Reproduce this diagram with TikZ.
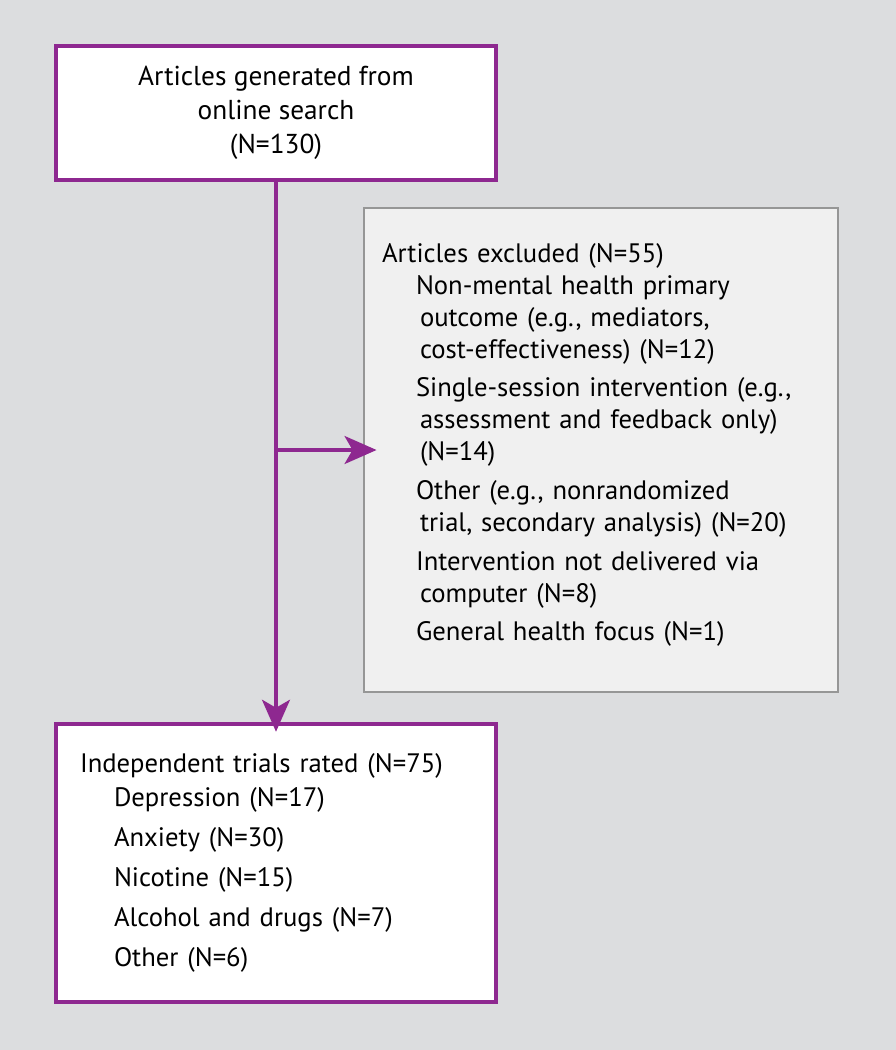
\documentclass[tikz,border=0pt]{standalone}
\usepackage{fontspec}
\setmainfont{PT Sans}
\usetikzlibrary{positioning}
\usetikzlibrary{arrows.meta}
\definecolor{purple2}{RGB}{142, 40, 144}
\definecolor{bggray}{RGB}{220, 221, 223}
\definecolor{gray2}{RGB}{150, 150, 150}
\definecolor{fill2}{RGB}{240, 240, 240}
\newlength{\ind}\setlength{\ind}{25.5pt}
\newlength{\hang}\setlength{\hang}{28.5pt}
\tikzset{
thickline/.style={line width=2.4pt},
mainbox/.style={draw=purple2, fill=white, thickline, inner ysep=0pt},
sidebox/.style={draw=gray2, fill=fill2, line width=2.2pt, inner ysep=0pt},
flow/.style={draw=purple2, thickline, -{Stealth[length=24pt, width=21pt, inset=6pt]}},
}

\begin{document}
\begin{tikzpicture}[x=0.75pt, y=-0.75pt]
\fill[bggray] (0,0) rectangle (896,1050);
%Place the boxes
\node[mainbox, minimum width=330pt, minimum height=100.5pt, align=center,
      font=\fontsize{20.5}{25.5}\selectfont] (search) at (276,113)
  {Articles generated from\\online search\\(N=130)};
\node[sidebox, minimum width=355.5pt, minimum height=363pt, text width=328.5pt,
      inner xsep=13.5pt, align=left, font=\fontsize{20}{24}\selectfont] (excluded) at (601,450)
  {Articles excluded (N=55)\\
   \hspace*{\ind}Non-mental health primary\\
   \hspace*{\hang}outcome (e.g., mediators,\\
   \hspace*{\hang}cost-effectiveness) (N=12)\\[5pt]
   \hspace*{\ind}Single-session intervention (e.g.,\\
   \hspace*{\hang}assessment and feedback only)\\
   \hspace*{\hang}(N=14)\\[5pt]
   \hspace*{\ind}Other (e.g., nonrandomized\\
   \hspace*{\hang}trial, secondary analysis) (N=20)\\[5pt]
   \hspace*{\ind}Intervention not delivered via\\
   \hspace*{\hang}computer (N=8)\\[5pt]
   \hspace*{\ind}General health focus (N=1)\rule[-12pt]{0pt}{12pt}};
\node[mainbox, minimum width=330pt, minimum height=208.5pt, text width=294pt,
      inner xsep=18pt, align=left, font=\fontsize{20}{25.5}\selectfont] (trials) at (276,863)
  {Independent trials rated (N=75)\\
   \hspace*{\ind}Depression (N=17)\\[4.5pt]
   \hspace*{\ind}Anxiety (N=30)\\[4.5pt]
   \hspace*{\ind}Nicotine (N=15)\\[4.5pt]
   \hspace*{\ind}Alcohol and drugs (N=7)\\[4.5pt]
   \hspace*{\ind}Other (N=6)};

%Connectors
\coordinate (branch) at (search.south |- excluded.west);
\draw[flow, shorten >=-7pt] (search) -- (trials);
\draw[flow, shorten >=-10.5pt] (branch) -- (excluded.west);
\end{tikzpicture}
\end{document}
